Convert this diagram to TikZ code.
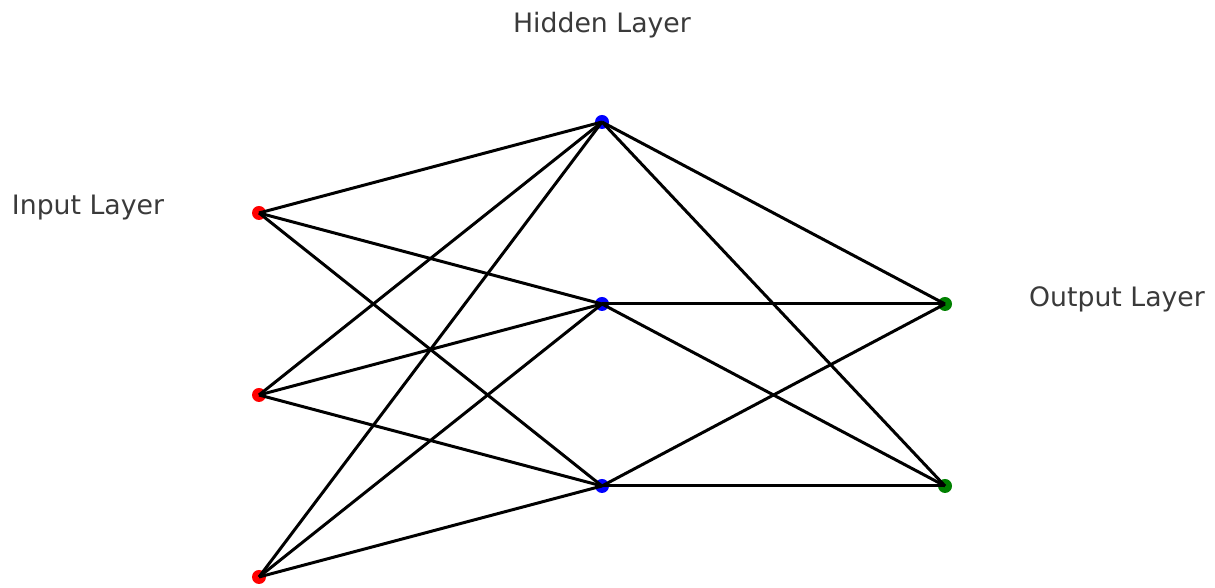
\documentclass[tikz,border=0pt]{standalone}
\usepackage{fontspec}
\setmainfont{DejaVu Sans}
\usetikzlibrary{positioning}
\definecolor{labelgray}{HTML}{3A3A3A}
\definecolor{outgreen}{HTML}{008000}

\begin{document}
\begin{tikzpicture}[node distance=3.64cm and 6.86cm, on grid,
  neuron/.style={circle, minimum size=0.28cm, inner sep=0pt},
  layerlabel/.style={font=\fontsize{15.2}{18}\selectfont, text=labelgray},
  link/.style={line width=1.7pt, black}]
\useasboundingbox (0,0) rectangle (24.3,11.76);
% input layer
\node[neuron, fill=red] (i1) at (5.18,7.5) {};
\node[neuron, fill=red, below=of i1] (i2) {};
\node[neuron, fill=red, below=of i2] (i3) {};
% hidden layer
\node[neuron, fill=blue] (h1) at (12.04,9.32) {};
\node[neuron, fill=blue, below=of h1] (h2) {};
\node[neuron, fill=blue, below=of h2] (h3) {};
% output layer
\node[neuron, fill=outgreen, right=of h2] (o1) {};
\node[neuron, fill=outgreen, right=of h3] (o2) {};
% labels
\node[layerlabel] (lin) at (1.76,7.6) {Input Layer};
\node[layerlabel, above=1.94cm of h1] (lhid) {Hidden Layer};
\node[layerlabel] (lout) at (22.34,5.78) {Output Layer};
% connections
\foreach \i in {1,2,3}
  \foreach \h in {1,2,3}
    \draw[link] (i\i.center) -- (h\h.center);
\foreach \h in {1,2,3}
  \foreach \o in {1,2}
    \draw[link] (h\h.center) -- (o\o.center);
\end{tikzpicture}
\end{document}
